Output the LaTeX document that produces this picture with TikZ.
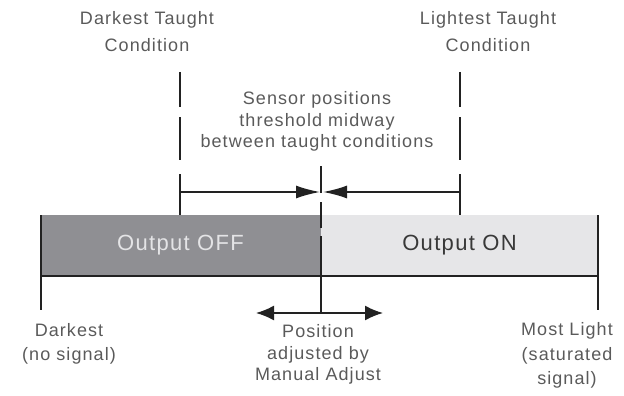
\documentclass[tikz,border=0pt]{standalone}
\usepackage{fontspec}
\setmainfont{Liberation Sans}[LetterSpace=6]
\usetikzlibrary{arrows.meta}
\definecolor{txt}{HTML}{5A5A5A}
\definecolor{bardark}{HTML}{8F8F93}
\definecolor{barlight}{HTML}{E6E6E8}
\definecolor{offtxt}{HTML}{E4E4E6}
\definecolor{ln}{HTML}{222222}
\tikzset{
  lbl/.style={text=txt, align=center, inner sep=0pt, font=\fontsize{18}{27}\selectfont},
  lblb/.style={text=txt, align=center, inner sep=0pt, font=\fontsize{18}{24.5}\selectfont},
  lbls/.style={text=txt, align=center, inner sep=0pt, font=\fontsize{18}{21.5}\selectfont},
  barpart/.style={rectangle, inner sep=0pt, minimum height=61pt, font=\fontsize{22}{26}\selectfont},
  rule/.style={draw=ln, line width=1.6pt},
  sidedash/.style={rule, dash pattern=on 35pt off 10pt on 43pt off 14pt on 50pt},
  middash/.style={rule, dash pattern=on 27pt off 9pt on 26pt off 8pt on 200pt},
  inarrow/.style={rule, -{Latex[length=24pt,width=13pt]}},
  outarrow/.style={rule, {Latex[length=18pt,width=15pt]}-{Latex[length=18pt,width=15pt]}}
}
\begin{document}
\begin{tikzpicture}[x=1pt, y=-1pt]
\useasboundingbox (0,0) rectangle (624,396);
% bar
\node[barpart, fill=bardark, text=offtxt, minimum width=281pt] (off) at (180.5,245.5) {Output OFF};
\node[barpart, fill=barlight, text=ln!90, minimum width=277pt] (on) at (459.5,245.5) {Output ON};
\coordinate (barBL) at (40,275.5);
\coordinate (barBR) at (598,275.5);
\draw[rule, line width=2pt] (barBL) -- (barBR);
% end ticks
\coordinate (lTop) at (41,215);
\coordinate (lBot) at (41,310);
\coordinate (rTop) at (598,215);
\coordinate (rBot) at (598,310);
\draw[rule] (lTop) -- (lBot);
\draw[rule] (rTop) -- (rBot);
% dashed taught lines
\coordinate (dkT) at (180,72);
\coordinate (dkB) at (180,215);
\coordinate (ltT) at (460,72);
\coordinate (ltB) at (460,215);
\draw[sidedash] (dkT) -- (dkB);
\draw[sidedash] (ltT) -- (ltB);
% threshold line
\coordinate (thT) at (321,166);
\coordinate (thB) at (321,313);
\draw[middash] (thT) -- (thB);
% dimension arrows
\coordinate (dimL) at (180,192);
\coordinate (dimR) at (460,192);
\coordinate (dimCL) at (320,192);
\coordinate (dimCR) at (323,192);
\draw[inarrow] (dimL) -- (dimCL);
\draw[inarrow] (dimR) -- (dimCR);
% manual adjust arrow
\coordinate (maL) at (256,313);
\coordinate (maR) at (383,313);
\draw[outarrow] (maL) -- (maR);
% labels
\node[lbl] (dtc) at (147,31.5) {Darkest Taught\\Condition};
\node[lbl] (ltc) at (488,31.5) {Lightest Taught\\Condition};
\node[lbls] (sens) at (317,121.5) {Sensor positions\\threshold midway\\between taught conditions};
\node[lblb] (dark) at (69,344) {Darkest\\(no signal)};
\node[lblb] (most) at (567,355.5) {Most Light\\(saturated\\signal)};
\node[lbls] (pos) at (318,354.5) {Position\\adjusted by\\Manual Adjust};
\end{tikzpicture}
\end{document}
